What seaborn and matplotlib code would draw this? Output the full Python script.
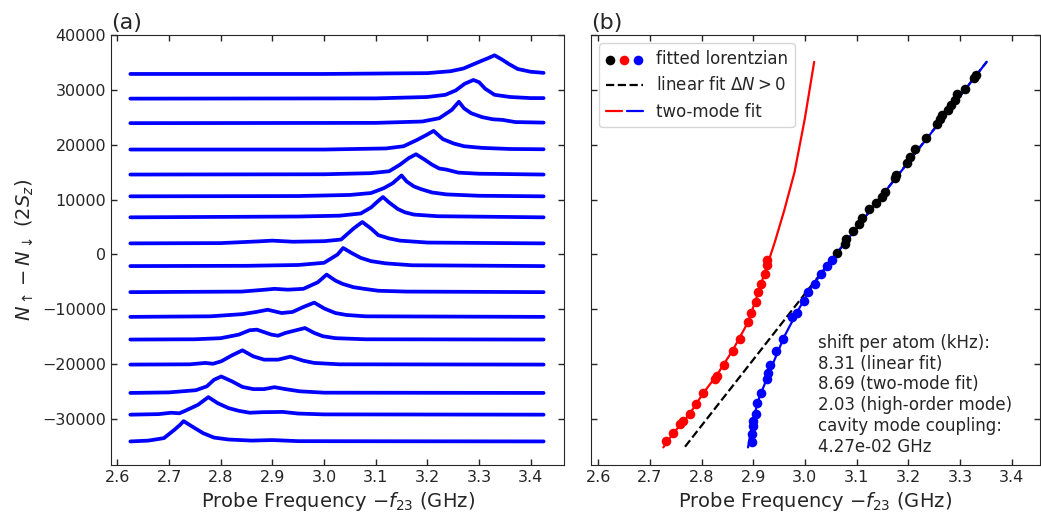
import numpy as np
import pandas as pd
import matplotlib
matplotlib.use("Agg")
import matplotlib.pyplot as plt
import seaborn as sns
from matplotlib.legend_handler import HandlerTuple

# ---- panel (a): transmission traces, offset by atom number ----
trace_offsets = [32900, 28400, 23930, 19120, 14560, 10590, 6760, 2010,
                 -2130, -6880, -11390, -15525, -20090, -25260, -29220, -34100]

trace_freqs = [
    [2.625, 3.00, 3.20, 3.245, 3.27, 3.30, 3.318, 3.330, 3.345, 3.358, 3.375, 3.40, 3.425],
    [2.625, 3.10, 3.20, 3.235, 3.255, 3.272, 3.289, 3.30, 3.312, 3.33, 3.36, 3.40, 3.425],
    [2.625, 3.10, 3.19, 3.223, 3.247, 3.261, 3.271, 3.285, 3.306, 3.327, 3.345, 3.37, 3.425],
    [2.625, 3.00, 3.12, 3.154, 3.181, 3.199, 3.212, 3.230, 3.251, 3.271, 3.306, 3.36, 3.425],
    [2.625, 3.00, 3.09, 3.126, 3.147, 3.164, 3.178, 3.195, 3.209, 3.223, 3.237, 3.26, 3.30, 3.425],
    [2.625, 2.95, 3.05, 3.091, 3.116, 3.133, 3.150, 3.160, 3.174, 3.188, 3.209, 3.237, 3.30, 3.425],
    [2.625, 2.85, 2.95, 3.03, 3.071, 3.091, 3.105, 3.114, 3.126, 3.143, 3.157, 3.174, 3.22, 3.425],
    [2.625, 2.80, 2.87, 2.90, 2.94, 3.00, 3.033, 3.057, 3.074, 3.091, 3.105, 3.126, 3.147, 3.20, 3.425],
    [2.625, 2.85, 2.95, 3.00, 3.026, 3.037, 3.053, 3.071, 3.091, 3.119, 3.17, 3.425],
    [2.625, 2.84, 2.88, 2.904, 2.93, 2.96, 2.988, 3.005, 3.022, 3.036, 3.057, 3.078, 3.105, 3.16, 3.425],
    [2.625, 2.78, 2.842, 2.869, 2.891, 2.918, 2.939, 2.960, 2.981, 3.001, 3.022, 3.043, 3.08, 3.425],
    [2.625, 2.75, 2.80, 2.835, 2.856, 2.870, 2.898, 2.911, 2.925, 2.946, 2.963, 2.981, 2.998, 3.022, 3.08, 3.425],
    [2.625, 2.74, 2.77, 2.785, 2.801, 2.822, 2.842, 2.863, 2.884, 2.911, 2.935, 2.960, 2.981, 3.03, 3.425],
    [2.625, 2.70, 2.752, 2.773, 2.787, 2.801, 2.822, 2.842, 2.863, 2.884, 2.904, 2.925, 2.953, 3.00, 3.425],
    [2.625, 2.68, 2.704, 2.72, 2.731, 2.756, 2.776, 2.794, 2.815, 2.835, 2.856, 2.88, 2.92, 2.95, 3.00, 3.425],
    [2.625, 2.66, 2.690, 2.710, 2.721, 2.728, 2.745, 2.766, 2.787, 2.815, 2.86, 2.90, 2.95, 3.425],
]

trace_heights = [
    [0, 0, 150, 500, 1000, 2200, 2900, 3400, 2600, 1800, 900, 400, 200],
    [0, 50, 300, 700, 1500, 2700, 3400, 3000, 1800, 700, 300, 100, 100],
    [0, 50, 300, 900, 2400, 3900, 2700, 1800, 1100, 700, 600, 200, 100],
    [0, 0, 200, 600, 1800, 2700, 3400, 1900, 1100, 600, 300, 100, 50],
    [0, 50, 250, 600, 1800, 3000, 3700, 2700, 1800, 1100, 900, 350, 150, 0],
    [0, 50, 250, 600, 1500, 2400, 3800, 2700, 1800, 1300, 700, 350, 100, 0],
    [0, 100, 150, 300, 700, 1800, 3000, 3700, 2700, 1500, 900, 500, 200, 0],
    [0, 50, 350, 500, 300, 400, 700, 2700, 3900, 2700, 1500, 900, 500, 150, 0],
    [0, 50, 200, 600, 2100, 3300, 2400, 1500, 900, 500, 150, 0],
    [0, 100, 400, 600, 450, 600, 1800, 3200, 2100, 1500, 900, 600, 250, 100, 0],
    [0, 100, 500, 900, 1300, 700, 900, 1800, 2600, 1500, 700, 350, 100, 0],
    [0, 50, 250, 900, 1700, 1800, 900, 700, 1200, 1700, 2100, 1200, 600, 250, 50, 0],
    [0, 50, 300, 150, 600, 1700, 2600, 1500, 900, 900, 1450, 700, 300, 50, 0],
    [0, 100, 500, 1200, 2400, 3000, 2100, 1100, 700, 700, 1050, 700, 300, 50, 0],
    [0, 100, 350, 250, 700, 1800, 3200, 2100, 1200, 700, 350, 450, 500, 200, 50, 0],
    [0, 150, 600, 2100, 3000, 3700, 2700, 1500, 700, 350, 150, 250, 50, 0],
]

# ---- panel (b): fitted lorentzian centres ----
black_freq = [3.062, 3.077, 3.080, 3.093, 3.105, 3.111, 3.124, 3.138, 3.150, 3.155,
              3.174, 3.177, 3.198, 3.204, 3.214, 3.235, 3.256, 3.261, 3.266, 3.277,
              3.282, 3.290, 3.294, 3.310, 3.327, 3.332]
black_dn = [240, 1950, 2870, 4260, 5600, 6700, 8340, 9370, 10470, 11380,
            14000, 14430, 16680, 17780, 19180, 21310, 23740, 24600, 25390, 26300,
            27210, 28130, 29220, 30140, 32090, 32700]

red_freq = [2.927, 2.927, 2.922, 2.916, 2.910, 2.906, 2.895, 2.890, 2.874, 2.860,
            2.844, 2.829, 2.826, 2.803, 2.789, 2.777, 2.764, 2.759, 2.745, 2.731]
red_dn = [-1100, -2010, -3650, -5350, -6880, -8710, -10710, -12360, -15400, -17530,
          -20090, -22100, -22700, -25330, -27280, -29100, -30320, -30920, -32640, -34100]

blue_freq = [3.053, 3.042, 3.032, 3.019, 3.006, 2.998, 2.985, 2.976, 2.958, 2.945,
             2.933, 2.929, 2.927, 2.915, 2.908, 2.905, 2.899, 2.899, 2.897, 2.897]
blue_dn = [-1100, -2190, -3650, -5350, -6880, -8520, -10710, -11450, -15400, -17530,
           -20090, -21680, -22700, -25330, -27160, -29100, -30320, -31230, -32750, -34280]

# fit curves
lin_fit_freq = [2.768, 3.352]
lin_fit_dn = [-35070, 35120]

red_fit_freq = [2.726, 2.745, 2.777, 2.803, 2.829, 2.860, 2.890, 2.910, 2.927,
                2.942, 2.960, 2.980, 3.000, 3.018]
red_fit_dn = [-35190, -32640, -29100, -25330, -22100, -17530, -12360, -6880, -2010,
              2300, 8000, 15000, 24800, 35100]

blue_fit_freq = [2.890, 2.896, 2.903, 2.912, 2.925, 2.940, 2.960, 2.985, 3.010,
                 3.040, 3.070, 3.120, 3.200, 3.280, 3.352]
blue_fit_dn = [-35190, -32000, -29000, -26000, -23000, -19500, -15000, -10500, -6400,
               -2400, 1200, 7200, 16800, 26400, 35120]

info_text = ("shift per atom (kHz):\n8.31 (linear fit)\n8.69 (two-mode fit)\n"
             "2.03 (high-order mode)\ncavity mode coupling:\n4.27e-02 GHz")

sns.set_style("ticks", {"xtick.direction": "in", "ytick.direction": "in"})
plt.rcParams["font.family"] = ["DejaVu Sans"]

fig = plt.figure(figsize=(10.41, 5.18), dpi=100)
ax1 = fig.add_axes([0.1066, 0.1023, 0.4352, 0.8301])
ax2 = fig.add_axes([0.5677, 0.1023, 0.4313, 0.8301])

# panel (a)
rows = []
for i, (off, fr, hh) in enumerate(zip(trace_offsets, trace_freqs, trace_heights)):
    for f, h in zip(fr, hh):
        rows.append((i, f, off + h))
traces = pd.DataFrame(rows, columns=["trace", "freq", "dn"])
sns.lineplot(data=traces, x="freq", y="dn", hue="trace", units="trace",
             estimator=None, sort=False, palette=["#0000ff"] * len(trace_offsets),
             linewidth=2.7, legend=False, ax=ax1)

ax1.set_xlim(2.5875, 3.4645)
ax1.set_ylim(-38400, 40000)
ax1.set_xlabel(r"Probe Frequency $-f_{23}$ (GHz)", fontsize=14)
ax1.set_ylabel(r"$N_\uparrow - N_\downarrow\ (2S_z)$", fontsize=14)
ax1.set_title("(a)", loc="left", fontsize=16, pad=4)

# panel (b)
ax2.plot(lin_fit_freq, lin_fit_dn, color="black", ls="--", lw=1.6, zorder=2)
blue_line, = ax2.plot(blue_fit_freq, blue_fit_dn, color="#0000ff", lw=1.6, zorder=3)
red_line, = ax2.plot(red_fit_freq, red_fit_dn, color="#ff0000", lw=1.6, zorder=3)
lin_handle, = ax2.plot([], [], color="black", ls="--", lw=1.6)

sns.scatterplot(x=black_freq, y=black_dn, color="black", s=48, linewidth=0, ax=ax2, zorder=4)
sc_black = ax2.collections[-1]
sns.scatterplot(x=red_freq, y=red_dn, color="#ff0000", s=48, linewidth=0, ax=ax2, zorder=4)
sc_red = ax2.collections[-1]
sns.scatterplot(x=blue_freq, y=blue_dn, color="#0000ff", s=48, linewidth=0, ax=ax2, zorder=4)
sc_blue = ax2.collections[-1]

ax2.set_xlim(2.586, 3.455)
ax2.set_ylim(-38400, 40000)
ax2.set_xlabel(r"Probe Frequency $-f_{23}$ (GHz)", fontsize=14)
ax2.set_ylabel("")
ax2.set_title("(b)", loc="left", fontsize=16, pad=4)

ax2.legend([(sc_black, sc_red, sc_blue), lin_handle, (red_line, blue_line)],
           ["fitted lorentzian", r"linear fit $\Delta N > 0$", "two-mode fit"],
           handler_map={tuple: HandlerTuple(ndivide=None, pad=0.3)},
           scatterpoints=1, loc="upper left", fontsize=12, handlelength=2.2)

ax2.text(0.505, 0.305, info_text, transform=ax2.transAxes, fontsize=12,
         va="top", ha="left", linespacing=1.2)

for ax in (ax1, ax2):
    ax.set_xticks(np.arange(2.6, 3.45, 0.1))
    ax.set_yticks(np.arange(-30000, 40001, 10000))
    ax.tick_params(axis="both", which="both", direction="in", top=True, right=True,
                   labelsize=11.5, length=4, width=1)
    for sp in ax.spines.values():
        sp.set_visible(True)
ax2.tick_params(labelleft=False)

fig.savefig("out.png", dpi=100)
